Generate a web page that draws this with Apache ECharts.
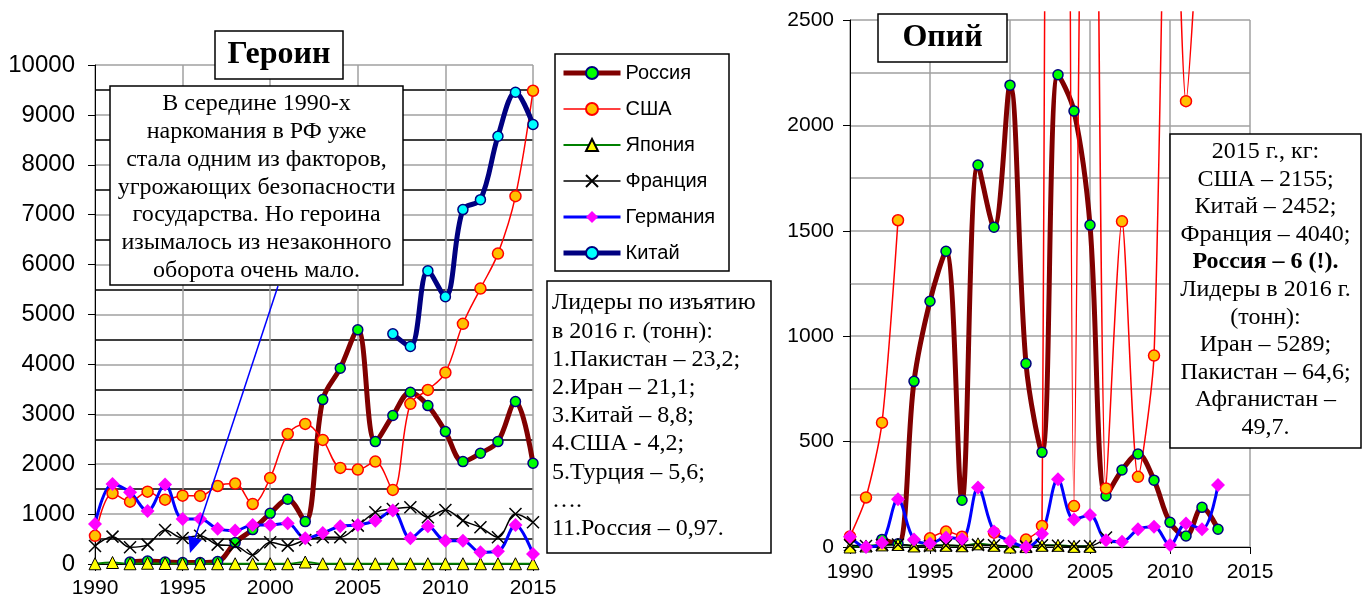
<!DOCTYPE html>
<html>
<head>
<meta charset="utf-8">
<script src="https://cdn.jsdelivr.net/npm/echarts@6/dist/echarts.min.js"></script>
<style>
  html, body { margin: 0; padding: 0; background: #fff; }
  #chart { width: 1363px; height: 600px; }
</style>
</head>
<body>
<div id="chart"></div>
<script>
// ---- data ----
const yearTicks = [1990, 1995, 2000, 2005, 2010, 2015]

const heroinYears = [1990, 1991, 1992, 1993, 1994, 1995, 1996, 1997, 1998, 1999, 2000, 2001, 2002,
  2003, 2004, 2005, 2006, 2007, 2008, 2009, 2010, 2011, 2012, 2013, 2014, 2015]
const heroinRussia = [null, null, 40, 60, 40, 30, 30, 50, 430, 690, 1015, 1297, 850, 3295, 3924, 4693,
  2453, 2975, 3443, 3175, 2654, 2052, 2219, 2453, 3255, 2019]
const heroinUSA = [565, 1417, 1250, 1450, 1290, 1370, 1364, 1564, 1611, 1203, 1725, 2607, 2807, 2487,
  1925, 1892, 2052, 1484, 3209, 3489, 3837, 4813, 5520, 6220, 7372, 9484]
const heroinJapan = [5, 30, 5, 15, 10, 5, 5, 5, 5, 5, 5, 5, 40, 5, 5, 5, 5, 5, 5, 5, 5, 5, 5, 5, 5, 5]
const heroinFrance = [360, 548, 334, 388, 682, 521, 568, 388, 368, 180, 434, 368, 480, 535, 535, 769,
  1036, 1103, 1136, 936, 1083, 869, 735, 535, 1003, 836]
const heroinGermany = [800, 1604, 1437, 1060, 1591, 902, 900, 705, 670, 782, 782, 815, 515, 622, 755,
  782, 869, 1070, 515, 755, 468, 468, 234, 254, 782, 200]
const heroinChina = [null, null, null, null, null, null, null, null, null, null, null, null, null,
  null, null, null, null, 4612, 4358, 5875, 5355, 7102, 7302, 8573, 9453, 8807]

const opiumYears = [1990, 1991, 1992, 1993, 1994, 1995, 1996, 1997, 1998, 1999, 2000, 2001, 2002,
  2003, 2004, 2005, 2006, 2007, 2008, 2009, 2010, 2011, 2012, 2013]
const opiumRussia = [null, null, 36, 15, 786, 1166, 1403, 222, 1812, 1517, 2191, 870, 449, 2240,
  2068, 1527, 242, 365, 441, 317, 117, 52, 188, 84]
const opiumUSA = [50, 235, 590, 1550, null, 41, 73, 49, null, 68, null, 35, 100, 22000, 194, 7000,
  278, 1545, 333, 908, 4200, 2115, 3300, null]
const opiumJapan = [0, 5, 10, 12, 5, 10, 8, 6, 15, 8, 0, 2, 8, 8, 3, 3,
  null, null, null, null, null, null, null, null]
const opiumFrance = [8, 5, 10, 12, 6, 5, 8, 6, 10, 8, 5, 3, 8, 6, 4, 5, 45,
  null, null, null, null, null, null, null]
const opiumGermany = [49, 0, 20, 226, 36, 17, 45, 38, 282, 73, 29, 0, 63, 321, 131, 152, 32, 25,
  84, 96, 9, 112, 84, 294]

const legendNames = ['Россия', 'США', 'Япония', 'Франция', 'Германия', 'Китай']

// ---- styles ----
const SANS = '"Liberation Sans", Arial, sans-serif'
const SERIF = '"Liberation Serif", "Times New Roman", serif'
const crossPath = 'path://M0 0L10 10M10 0L0 10'

const look = {
  'Россия':   { line: '#800000', width: 5,   symbol: 'circle',   size: 10, fill: '#00ff00', border: '#000080', bw: 1.5 },
  'США':      { line: '#ff0000', width: 1.5, symbol: 'circle',   size: 11, fill: '#ffc000', border: '#ff0000', bw: 1.5 },
  'Япония':   { line: '#008000', width: 2,   symbol: 'triangle', size: 12, fill: '#ffff00', border: '#000000', bw: 1 },
  'Франция':  { line: '#000000', width: 1.5, symbol: crossPath,  size: 12, fill: '#000000', border: '#000000', bw: 1.5 },
  'Германия': { line: '#0000ff', width: 3,   symbol: 'diamond',  size: 14, fill: '#ff00ff', border: '#ff00ff', bw: 0 },
  'Китай':    { line: '#000080', width: 5,   symbol: 'circle',   size: 10, fill: '#00ffff', border: '#000080', bw: 1.5 },
}

function line(name, years, vals, axis, extra) {
  const s = look[name]
  return Object.assign({
    name,
    type: 'line',
    xAxisIndex: axis,
    yAxisIndex: axis,
    data: years.map((y, i) => [y, vals[i] == null ? '-' : vals[i]]),
    smooth: 0.35,
    connectNulls: false,
    symbol: s.symbol,
    symbolSize: s.size,
    showAllSymbol: true,
    lineStyle: { color: s.line, width: s.width },
    itemStyle: { color: s.fill, borderColor: s.border, borderWidth: s.bw },
    emphasis: { disabled: true },
  }, extra || {})
}

// right-hand plot: 0 at y=547, 2500 at y=20; US lines run up to y=12
const opTop = 20, opBottom = 547, usTop = 12
const usMax = 2500 * (opBottom - usTop) / (opBottom - opTop)

const xLabel = (margin) => ({ color: '#000', fontSize: 21, fontFamily: SANS, margin, formatter: v => String(v) })
const grayLine = { lineStyle: { color: '#a0a0a0', width: 1.5 } }
const tick = { show: true, inside: false, length: 7, lineStyle: { color: '#000' } }

function box(x, y, w, h) {
  return { type: 'rect', z: 50, shape: { x, y, width: w, height: h }, style: { fill: '#fff', stroke: '#000', lineWidth: 1.5 } }
}
function text(x, y, str, font, align, lh) {
  return {
    type: 'text', z: 51, x, y,
    style: { text: str, font, fill: '#000', align, textAlign: align, verticalAlign: 'top', textVerticalAlign: 'top', lineHeight: lh },
  }
}

const noteHeroin = ['В середине 1990-х', 'наркомания в РФ уже', 'стала одним из факторов,',
  'угрожающих безопасности', 'государства. Но героина', 'изымалось из незаконного', 'оборота очень мало.']
const noteLeaders = ['Лидеры по изъятию', 'в 2016 г. (тонн):', '1.Пакистан – 23,2;', '2.Иран – 21,1;',
  '3.Китай – 8,8;', '4.США - 4,2;', '5.Турция – 5,6;', '….', '11.Россия – 0,97.']

const chart = echarts.init(document.getElementById('chart'), null, { renderer: 'canvas' })

chart.setOption({
  animation: false,
  backgroundColor: '#fff',
  textStyle: { fontFamily: SANS },
  grid: [
    { left: 95, top: 65, width: 438, height: 499 },
    { left: 850, top: opTop, width: 400, height: opBottom - opTop },
    { left: 850, top: usTop, width: 400, height: opBottom - usTop },
  ],
  xAxis: [
    {
      gridIndex: 0, type: 'value', min: yearTicks[0], max: yearTicks[yearTicks.length - 1], interval: 5,
      axisLine: { show: true, lineStyle: { color: '#000' } }, axisTick: tick,
      axisLabel: xLabel(14), splitLine: Object.assign({ show: true }, grayLine),
    },
    {
      gridIndex: 1, type: 'value', min: yearTicks[0], max: yearTicks[yearTicks.length - 1], interval: 5,
      axisLine: { show: true, lineStyle: { color: '#000' } }, axisTick: tick,
      axisLabel: xLabel(15), splitLine: Object.assign({ show: true }, grayLine),
    },
    { gridIndex: 2, type: 'value', min: yearTicks[0], max: yearTicks[yearTicks.length - 1], show: false },
  ],
  yAxis: [
    {
      gridIndex: 0, type: 'value', min: 0, max: 10000, interval: 1000,
      axisLine: { show: true, lineStyle: { color: '#000' } }, axisTick: tick,
      axisLabel: { color: '#000', fontSize: 24, fontFamily: SANS, margin: 20, formatter: v => String(v) },
      splitLine: Object.assign({ show: true }, grayLine),
      minorTick: { show: false, splitNumber: 2 },
      minorSplitLine: { show: true, lineStyle: { color: '#000', width: 1.5 } },
    },
    {
      gridIndex: 1, type: 'value', min: 0, max: 2500, interval: 500,
      axisLine: { show: true, lineStyle: { color: '#000' } }, axisTick: tick,
      axisLabel: { color: '#000', fontSize: 21, fontFamily: SANS, margin: 16, formatter: v => String(v) },
      splitLine: Object.assign({ show: true }, grayLine),
      minorTick: { show: false, splitNumber: 2 },
      minorSplitLine: Object.assign({ show: true }, grayLine),
    },
    { gridIndex: 2, type: 'value', min: 0, max: usMax, show: false },
  ],
  legend: {
    data: legendNames,
    orient: 'vertical',
    left: 561, top: 63,
    padding: 0,
    itemWidth: 57, itemHeight: 15, itemGap: 16,
    selectedMode: false,
    z: 60,
    lineStyle: { width: 'inherit' },
    textStyle: { color: '#000', fontSize: 20, fontFamily: SANS, lineHeight: 20 },
  },
  series: [
    line('Россия', heroinYears, heroinRussia, 0),
    line('США', heroinYears, heroinUSA, 0),
    line('Япония', heroinYears, heroinJapan, 0),
    line('Франция', heroinYears, heroinFrance, 0),
    line('Германия', heroinYears, heroinGermany, 0),
    line('Китай', heroinYears, heroinChina, 0),

    line('Россия', opiumYears, opiumRussia, 1),
    line('США', opiumYears, opiumUSA, 2, { smooth: 0.25 }),
    line('Япония', opiumYears, opiumJapan, 1),
    line('Франция', opiumYears, opiumFrance, 1),
    line('Германия', opiumYears, opiumGermany, 1),
  ],
  graphic: [
    // heroin panel
    box(215, 31, 128, 48),
    text(279, 37, 'Героин', 'bold 32px ' + SERIF, 'center', 36),
    box(110, 86, 293, 199),
    text(256.5, 90, noteHeroin.join('\n'), '24px ' + SERIF, 'center', 27.8),
    { type: 'line', z: 40, shape: { x1: 278, y1: 286, x2: 195, y2: 538 }, style: { stroke: '#0000ff', lineWidth: 1.5 } },
    { type: 'polygon', z: 40, shape: { points: [[190, 553], [201.7, 540], [188.4, 535.6]] }, style: { fill: '#0000ff' } },
    box(555, 54, 174, 217),
    box(547, 281, 224, 272),
    text(552, 289, noteLeaders.join('\n'), '24px ' + SERIF, 'left', 28.2),

    // opium panel
    box(878, 14, 129, 48),
    text(942.5, 20, 'Опий', 'bold 32px ' + SERIF, 'center', 36),
    box(1170, 134, 191, 314),
    {
      type: 'text', z: 51, x: 1265.5, y: 138,
      style: {
        text: [
          '{n|2015 г., кг:}', '{n|США – 2155;}', '{n|Китай – 2452;}', '{n|Франция – 4040;}',
          '{b|Россия – 6 (!).}', '{n|Лидеры в 2016 г.}', '{n|(тонн):}', '{n|Иран – 5289;}',
          '{n|Пакистан – 64,6;}', '{n|Афганистан –}', '{n|49,7.}',
        ].join('\n'),
        align: 'center', textAlign: 'center', verticalAlign: 'top', textVerticalAlign: 'top',
        rich: {
          n: { fontFamily: SERIF, fontSize: 24, lineHeight: 27.6, fill: '#000', color: '#000' },
          b: { fontFamily: SERIF, fontSize: 24, fontWeight: 'bold', lineHeight: 27.6, fill: '#000', color: '#000' },
        },
      },
    },
  ],
})
</script>
</body>
</html>
